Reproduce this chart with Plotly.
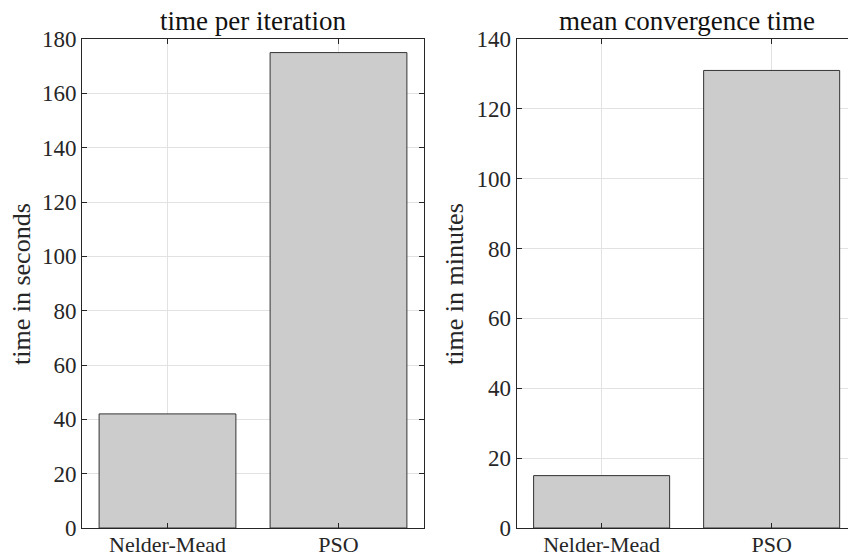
import plotly.graph_objects as go

# Data
methods = ["Nelder-Mead", "PSO"]
time_per_iteration_s = [42, 175]
mean_convergence_min = [15, 131]
left_yticks = [0, 20, 40, 60, 80, 100, 120, 140, 160, 180]
right_yticks = [0, 20, 40, 60, 80, 100, 120, 140]

W, H = 848, 558
FONT = "Liberation Serif, Times New Roman, serif"
TXT = "#262626"
AX = "#262626"
GRID = "#e2e2e2"

def px_x(p):
    return p / W

def px_y(p):
    return (H - p) / H

fig = go.Figure()

bar_style = dict(marker=dict(color="#cccccc", line=dict(color="#333333", width=1)),
                 width=0.8, showlegend=False, hoverinfo="x+y")

fig.add_trace(go.Bar(x=[1, 2], y=time_per_iteration_s, xaxis="x", yaxis="y", **bar_style))
fig.add_trace(go.Bar(x=[1, 2], y=mean_convergence_min, xaxis="x2", yaxis="y2", **bar_style))

ydom = [px_y(528), px_y(39)]
common_x = dict(tickmode="array", tickvals=[1, 2], ticktext=methods,
                ticks="inside", ticklen=5, tickcolor=AX, tickwidth=1,
                showline=True, linecolor=AX, linewidth=1,
                showgrid=True, gridcolor=GRID, gridwidth=1, zeroline=False,
                tickfont=dict(family=FONT, size=22, color=TXT),
                ticklabelstandoff=-3,
                automargin=False, fixedrange=True)
common_y = dict(ticks="inside", ticklen=5, tickcolor=AX, tickwidth=1,
                showline=True, linecolor=AX, linewidth=1,
                showgrid=True, gridcolor=GRID, gridwidth=1, zeroline=False,
                tickfont=dict(family=FONT, size=23, color=TXT),
                tickmode="array", automargin=False, fixedrange=True)

fig.update_layout(
    width=W, height=H,
    margin=dict(l=0, r=0, t=0, b=0, pad=0, autoexpand=False),
    paper_bgcolor="white", plot_bgcolor="white",
    bargap=0.2,
    xaxis=dict(domain=[px_x(82), px_x(424)], range=[0.5, 2.5], anchor="y",
               mirror="ticks", **common_x),
    yaxis=dict(domain=ydom, range=[0, 180], anchor="x", tickvals=left_yticks,
               mirror="ticks", **common_y),
    xaxis2=dict(domain=[px_x(516.6), 1.0], range=[0.5, 2.449], anchor="y2",
                mirror="ticks", **common_x),
    yaxis2=dict(domain=ydom, range=[0, 140], anchor="x2", tickvals=right_yticks,
                mirror=False, **common_y),
)

title_font = dict(family=FONT, size=27, color="#111111")
label_font = dict(family=FONT, size=26, color=TXT)
fig.add_annotation(text="time per iteration", x=px_x(253), y=px_y(21),
                   xref="paper", yref="paper", showarrow=False,
                   xanchor="center", yanchor="middle", font=title_font)
fig.add_annotation(text="mean convergence time", x=px_x(687), y=px_y(21),
                   xref="paper", yref="paper", showarrow=False,
                   xanchor="center", yanchor="middle", font=title_font)
fig.add_annotation(text="time in seconds", x=px_x(22), y=px_y(284),
                   xref="paper", yref="paper", showarrow=False, textangle=-90,
                   xanchor="center", yanchor="middle", font=label_font)
fig.add_annotation(text="time in minutes", x=px_x(455), y=px_y(284),
                   xref="paper", yref="paper", showarrow=False, textangle=-90,
                   xanchor="center", yanchor="middle", font=label_font)

fig.write_html("out.html")
